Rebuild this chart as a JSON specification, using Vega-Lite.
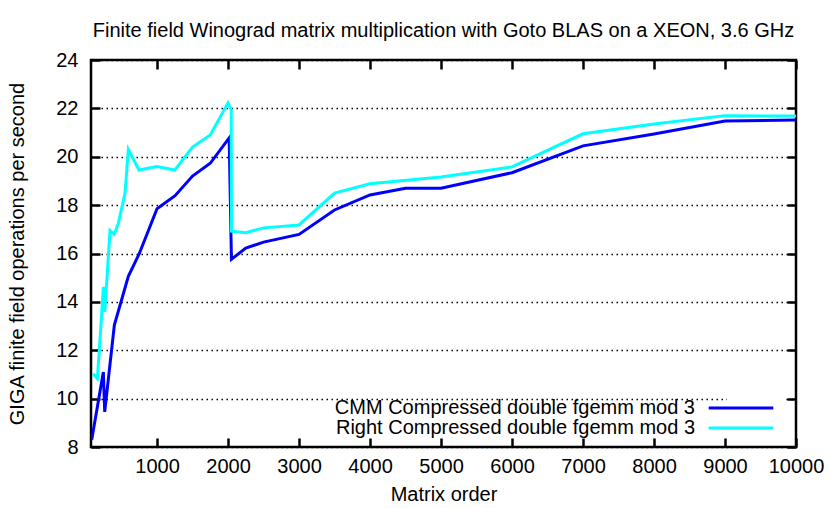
{
  "$schema": "https://vega.github.io/schema/vega-lite/v6.json",
  "width": 705,
  "height": 387,
  "autosize": {"type": "none"},
  "padding": {"left": 91, "top": 60, "right": 34, "bottom": 61},
  "background": "white",
  "title": {
    "text": "Finite field Winograd matrix multiplication with Goto BLAS on a XEON, 3.6 GHz",
    "font": "Liberation Sans",
    "fontSize": 20,
    "fontWeight": "normal",
    "color": "black",
    "anchor": "middle",
    "offset": 9
  },
  "config": {
    "view": {"stroke": "black", "strokeWidth": 2.5},
    "axis": {
      "labelFont": "Liberation Sans",
      "labelFontSize": 20,
      "labelColor": "black",
      "titleFont": "Liberation Sans",
      "titleFontSize": 20,
      "titleFontWeight": "normal",
      "titleColor": "black",
      "domain": false,
      "tickColor": "black",
      "tickWidth": 2.5,
      "tickSize": -9,
      "labelFlush": false,
      "labelOverlap": false
    },
    "legend": {
      "labelFont": "Liberation Sans",
      "labelFontSize": 20,
      "labelColor": "black",
      "labelLimit": 0
    }
  },
  "data": {
    "values": [
      {"n": 80, "gflops": 8.3, "series": "CMM Compressed double fgemm mod 3"},
      {"n": 244, "gflops": 11.1, "series": "CMM Compressed double fgemm mod 3"},
      {"n": 263, "gflops": 9.45, "series": "CMM Compressed double fgemm mod 3"},
      {"n": 399, "gflops": 13.04, "series": "CMM Compressed double fgemm mod 3"},
      {"n": 596, "gflops": 15.06, "series": "CMM Compressed double fgemm mod 3"},
      {"n": 751, "gflops": 16.0, "series": "CMM Compressed double fgemm mod 3"},
      {"n": 1000, "gflops": 17.85, "series": "CMM Compressed double fgemm mod 3"},
      {"n": 1254, "gflops": 18.39, "series": "CMM Compressed double fgemm mod 3"},
      {"n": 1500, "gflops": 19.2, "series": "CMM Compressed double fgemm mod 3"},
      {"n": 1750, "gflops": 19.73, "series": "CMM Compressed double fgemm mod 3"},
      {"n": 2016, "gflops": 20.78, "series": "CMM Compressed double fgemm mod 3"},
      {"n": 2048, "gflops": 15.76, "series": "CMM Compressed double fgemm mod 3"},
      {"n": 2250, "gflops": 16.22, "series": "CMM Compressed double fgemm mod 3"},
      {"n": 2500, "gflops": 16.47, "series": "CMM Compressed double fgemm mod 3"},
      {"n": 3000, "gflops": 16.79, "series": "CMM Compressed double fgemm mod 3"},
      {"n": 3500, "gflops": 17.8, "series": "CMM Compressed double fgemm mod 3"},
      {"n": 4000, "gflops": 18.42, "series": "CMM Compressed double fgemm mod 3"},
      {"n": 4500, "gflops": 18.7, "series": "CMM Compressed double fgemm mod 3"},
      {"n": 5000, "gflops": 18.7, "series": "CMM Compressed double fgemm mod 3"},
      {"n": 6000, "gflops": 19.34, "series": "CMM Compressed double fgemm mod 3"},
      {"n": 7000, "gflops": 20.45, "series": "CMM Compressed double fgemm mod 3"},
      {"n": 8000, "gflops": 20.94, "series": "CMM Compressed double fgemm mod 3"},
      {"n": 9000, "gflops": 21.48, "series": "CMM Compressed double fgemm mod 3"},
      {"n": 10000, "gflops": 21.52, "series": "CMM Compressed double fgemm mod 3"},
      {"n": 100, "gflops": 11.03, "series": "Right Compressed double fgemm mod 3"},
      {"n": 160, "gflops": 10.83, "series": "Right Compressed double fgemm mod 3"},
      {"n": 221, "gflops": 13.52, "series": "Right Compressed double fgemm mod 3"},
      {"n": 244, "gflops": 14.62, "series": "Right Compressed double fgemm mod 3"},
      {"n": 265, "gflops": 13.59, "series": "Right Compressed double fgemm mod 3"},
      {"n": 338, "gflops": 16.95, "series": "Right Compressed double fgemm mod 3"},
      {"n": 399, "gflops": 16.8, "series": "Right Compressed double fgemm mod 3"},
      {"n": 455, "gflops": 17.25, "series": "Right Compressed double fgemm mod 3"},
      {"n": 549, "gflops": 18.49, "series": "Right Compressed double fgemm mod 3"},
      {"n": 596, "gflops": 20.3, "series": "Right Compressed double fgemm mod 3"},
      {"n": 746, "gflops": 19.45, "series": "Right Compressed double fgemm mod 3"},
      {"n": 1000, "gflops": 19.6, "series": "Right Compressed double fgemm mod 3"},
      {"n": 1250, "gflops": 19.45, "series": "Right Compressed double fgemm mod 3"},
      {"n": 1500, "gflops": 20.4, "series": "Right Compressed double fgemm mod 3"},
      {"n": 1750, "gflops": 20.9, "series": "Right Compressed double fgemm mod 3"},
      {"n": 2000, "gflops": 22.22, "series": "Right Compressed double fgemm mod 3"},
      {"n": 2045, "gflops": 21.95, "series": "Right Compressed double fgemm mod 3"},
      {"n": 2048, "gflops": 16.92, "series": "Right Compressed double fgemm mod 3"},
      {"n": 2250, "gflops": 16.86, "series": "Right Compressed double fgemm mod 3"},
      {"n": 2500, "gflops": 17.06, "series": "Right Compressed double fgemm mod 3"},
      {"n": 3000, "gflops": 17.18, "series": "Right Compressed double fgemm mod 3"},
      {"n": 3500, "gflops": 18.5, "series": "Right Compressed double fgemm mod 3"},
      {"n": 4000, "gflops": 18.88, "series": "Right Compressed double fgemm mod 3"},
      {"n": 5000, "gflops": 19.16, "series": "Right Compressed double fgemm mod 3"},
      {"n": 6000, "gflops": 19.58, "series": "Right Compressed double fgemm mod 3"},
      {"n": 7000, "gflops": 20.95, "series": "Right Compressed double fgemm mod 3"},
      {"n": 8000, "gflops": 21.35, "series": "Right Compressed double fgemm mod 3"},
      {"n": 9000, "gflops": 21.7, "series": "Right Compressed double fgemm mod 3"},
      {"n": 10000, "gflops": 21.68, "series": "Right Compressed double fgemm mod 3"}
    ]
  },
  "layer": [
    {
      "mark": {"type": "line", "strokeWidth": 3, "clip": true},
      "encoding": {
        "x": {
          "field": "n", "type": "quantitative",
          "scale": {"domain": [70, 10000], "nice": false, "zero": false},
          "axis": {
            "orient": "bottom",
            "values": [1000, 2000, 3000, 4000, 5000, 6000, 7000, 8000, 9000, 10000],
            "format": "d",
            "grid": false,
            "labelPadding": 18,
            "title": "Matrix order",
            "titlePadding": 8
          }
        },
        "y": {
          "field": "gflops", "type": "quantitative",
          "scale": {"domain": [8, 24], "nice": false, "zero": false},
          "axis": {
            "orient": "left",
            "values": [8, 10, 12, 14, 16, 18, 20, 22, 24],
            "grid": true,
            "gridColor": "black",
            "gridDash": [1.5, 3.5],
            "gridWidth": 1.3,
            "labelPadding": 22,
            "title": "GIGA finite field operations per second",
            "titlePadding": 28
          }
        },
        "color": {
          "field": "series", "type": "nominal",
          "scale": {
            "domain": ["CMM Compressed double fgemm mod 3", "Right Compressed double fgemm mod 3"],
            "range": ["#0000ff", "#00ffff"]
          },
          "legend": {
            "title": null,
            "orient": "none",
            "legendX": 636,
            "legendY": 334,
            "symbolType": "M-3.8,0H3.8",
            "symbolSize": 289,
            "symbolStrokeWidth": 3,
            "labelAlign": "right",
            "labelOffset": -56,
            "fillColor": "white",
            "padding": 4,
            "rowPadding": 0
          }
        }
      }
    },
    {
      "mark": {"type": "line", "opacity": 0},
      "encoding": {
        "x": {
          "field": "n", "type": "quantitative",
          "axis": {
            "orient": "top",
            "values": [1000, 2000, 3000, 4000, 5000, 6000, 7000, 8000, 9000, 10000],
            "labels": false,
            "grid": false,
            "title": null
          }
        },
        "y": {
          "field": "gflops", "type": "quantitative",
          "axis": {
            "orient": "right",
            "values": [8, 10, 12, 14, 16, 18, 20, 22, 24],
            "labels": false,
            "grid": false,
            "title": null
          }
        },
        "detail": {"field": "series", "type": "nominal"}
      }
    }
  ],
  "resolve": {"axis": {"x": "independent", "y": "independent"}}
}
